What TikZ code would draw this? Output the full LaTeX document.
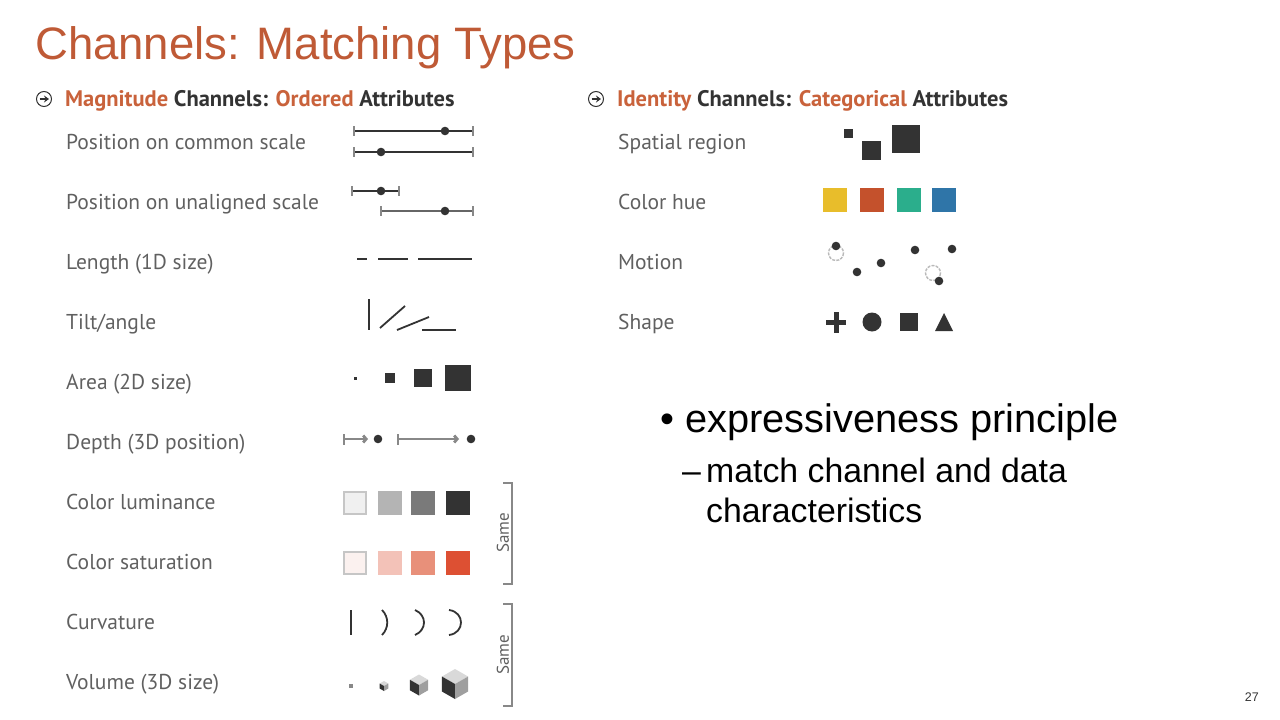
\documentclass[tikz,border=0pt]{standalone}
\usepackage{fontspec}
\setmainfont{Liberation Sans}
\newfontfamily\labfont{PT Sans}
\usetikzlibrary{arrows.meta}
\definecolor{ttl}{HTML}{BF5A36}
\definecolor{hdr}{HTML}{C9623B}
\definecolor{lab}{HTML}{606060}
\definecolor{mk}{HTML}{333333}
\definecolor{tk}{HTML}{888888}
\definecolor{luma}{HTML}{F0F0F0}
\definecolor{lumb}{HTML}{B4B4B4}
\definecolor{lumc}{HTML}{7A7A7A}
\definecolor{lumd}{HTML}{333333}
\definecolor{sata}{HTML}{FBF1EF}
\definecolor{satb}{HTML}{F3C2B8}
\definecolor{satc}{HTML}{E8907A}
\definecolor{satd}{HTML}{DD5033}
\definecolor{huea}{HTML}{E8BD2B}
\definecolor{hueb}{HTML}{C4512C}
\definecolor{huec}{HTML}{2BAE8C}
\definecolor{hued}{HTML}{2F75A8}
\tikzset{
  lbl/.style={anchor=base west, inner sep=0pt, text=lab, font=\labfont\fontsize{21.5}{24}\selectfont},
  hd/.style={anchor=base west, inner sep=0pt, text=mk, font=\labfont\bfseries\fontsize{22.5}{25}\selectfont},
  scl/.style={mk, line width=2.2pt},
  tck/.style={tk, line width=1.5pt},
  dotm/.style={fill=mk, draw=none},
  sq/.style={fill=mk, draw=none},
  same/.style={tk, line width=2pt},
  sametxt/.style={rotate=90, inner sep=0pt, text=lab, font=\labfont\fontsize{17}{19}\selectfont},
  ring/.style={draw=gray!55, line width=1.4pt, dash pattern=on 3pt off 1.2pt}
}
\newcommand\mycube[3]{% cx cy s
  \fill[gray!30] (#1,#2-#3) -- (#1+0.87*#3,#2-0.5*#3) -- (#1,#2) -- (#1-0.87*#3,#2-0.5*#3) -- cycle;
  \fill[mk] (#1-0.87*#3,#2-0.5*#3) -- (#1,#2) -- (#1,#2+#3) -- (#1-0.87*#3,#2+0.5*#3) -- cycle;
  \fill[gray!75] (#1,#2) -- (#1+0.87*#3,#2-0.5*#3) -- (#1+0.87*#3,#2+0.5*#3) -- (#1,#2+#3) -- cycle;
}
\newcommand\hdicon[2]{%
  \draw[mk, line width=1pt] (#1,#2) circle (7.5);
  \draw[mk, line width=1.4pt, -{Stealth[length=5pt,width=7pt]}] (#1-4.5,#2) -- (#1+5,#2);
}
\begin{document}
\begin{tikzpicture}[x=1pt,y=-1pt]
\useasboundingbox (0,0) rectangle (1280,720);
% title
\node[anchor=base west, inner sep=0pt, text=ttl, font=\fontsize{45.5}{50}\selectfont] (title) at (35,59) {Channels: Matching Types};
% headers
\hdicon{44}{99}
\node[hd] (hl) at (65,106) {\textcolor{hdr}{Magnitude} Channels: \textcolor{hdr}{Ordered} Attributes};
\hdicon{596}{99}
\node[hd] (hr) at (617,106) {\textcolor{hdr}{Identity} Channels: \textcolor{hdr}{Categorical} Attributes};
% left labels
\node[lbl] (l1) at (66,149) {Position on common scale};
\node[lbl] (l2) at (66,209) {Position on unaligned scale};
\node[lbl] (l3) at (66,269) {Length (1D size)};
\node[lbl] (l4) at (66,329) {Tilt/angle};
\node[lbl] (l5) at (66,389) {Area (2D size)};
\node[lbl] (l6) at (66,449) {Depth (3D position)};
\node[lbl] (l7) at (66,509) {Color luminance};
\node[lbl] (l8) at (66,569) {Color saturation};
\node[lbl] (l9) at (66,629) {Curvature};
\node[lbl] (l10) at (66,689) {Volume (3D size)};
% right labels
\node[lbl] (r1) at (618,149) {Spatial region};
\node[lbl] (r2) at (618,209) {Color hue};
\node[lbl] (r3) at (618,269) {Motion};
\node[lbl] (r4) at (618,329) {Shape};
% row 1 position common
\draw[scl] (354,131) -- (473,131);
\draw[tck] (354,126) -- (354,136) (473,126) -- (473,136);
\fill[dotm] (445,131) circle (4.3);
\draw[scl] (354,152) -- (473,152);
\draw[tck] (354,147) -- (354,157) (473,147) -- (473,157);
\fill[dotm] (381,152) circle (4.3);
% row 2 unaligned
\draw[scl] (352,191) -- (399,191);
\draw[tck] (352,186) -- (352,196) (399,186) -- (399,196);
\fill[dotm] (381,191) circle (4.3);
\draw[scl, gray!80!black] (381,211) -- (473,211);
\draw[tck] (381,206) -- (381,216) (473,206) -- (473,216);
\fill[dotm] (445,211) circle (4.3);
% row 3 length
\draw[mk, line width=2.5pt] (357,259) -- (367,259) (378,259) -- (408,259) (418,259) -- (472,259);
% row 4 tilt
\draw[mk, line width=1.8pt] (369,299) -- (369,330);
\draw[mk, line width=1.8pt] (380,328) -- (405,306);
\draw[mk, line width=1.8pt] (397,330) -- (429,317);
\draw[mk, line width=1.8pt] (422,330) -- (456,330);
% row 5 area
\fill[sq] (354,377) rectangle (357,380);
\fill[sq] (385,373) rectangle (395,383);
\fill[sq] (414,369) rectangle (432,387);
\fill[sq] (445,365) rectangle (471,391);
% row 6 depth
\draw[tck, line width=2pt] (344,434) -- (344,445);
\draw[tk, line width=2.8pt, -{Straight Barb[length=3pt,width=7pt]}] (344,439) -- (368,439);
\fill[dotm] (378,439) circle (4.3);
\draw[tck, line width=2pt] (398,434) -- (398,445);
\draw[tk, line width=2.8pt, -{Straight Barb[length=3pt,width=7pt]}] (398,439) -- (459,439);
\fill[dotm] (471,439) circle (4.3);
% row 7 luminance
\fill[gray!45] (343,491) rectangle (367,515);
\fill[luma] (345,493) rectangle (365,513);
\fill[lumb] (378,491) rectangle (402,515);
\fill[lumc] (411,491) rectangle (435,515);
\fill[lumd] (446,491) rectangle (470,515);
% row 8 saturation
\fill[gray!45] (343,551) rectangle (367,575);
\fill[sata] (345,553) rectangle (365,573);
\fill[satb] (378,551) rectangle (402,575);
\fill[satc] (411,551) rectangle (435,575);
\fill[satd] (446,551) rectangle (470,575);
% same bracket 1
\draw[same] (503,483) -- (512,483) -- (512,584) -- (503,584);
\node[sametxt] (s1) at (503,533) {Same};
% row 9 curvature
\draw[mk, line width=2pt] (351,610) -- (351,635);
\draw[mk, line width=1.8pt] (382,610) .. controls (389,617) and (389,628) .. (382,635);
\draw[mk, line width=1.8pt] (415,610) .. controls (427,615) and (427,630) .. (415,635);
\draw[mk, line width=1.8pt] (449,610) .. controls (465,612) and (465,633) .. (449,635);
% row 10 volume
\fill[tk] (349,684) rectangle (353,688);
\mycube{384}{686}{5}
\mycube{419}{685}{10.5}
\mycube{455}{684}{15}
% same bracket 2
\draw[same] (503,604) -- (512,604) -- (512,706) -- (503,706);
\node[sametxt] (s2) at (503,655) {Same};
% right: spatial region
\fill[sq] (844,129) rectangle (853,138);
\fill[sq] (862,141) rectangle (881,160);
\fill[sq] (892,125) rectangle (920,153);
% color hue
\fill[huea] (823,188) rectangle (847,212);
\fill[hueb] (860,188) rectangle (884,212);
\fill[huec] (897,188) rectangle (921,212);
\fill[hued] (932,188) rectangle (956,212);
% motion
\draw[ring] (836,253) circle (7.5);
\fill[dotm] (836,246) circle (4.3);
\fill[dotm] (857,272) circle (4.3);
\fill[dotm] (881,263) circle (4.3);
\fill[dotm] (915,250) circle (4.3);
\fill[dotm] (952,249) circle (4.3);
\draw[ring] (933,273) circle (7.5);
\fill[dotm] (939,281) circle (4.3);
% shape
\fill[mk] (826,320) rectangle (846,325);
\fill[mk] (833.5,312) rectangle (838.5,333);
\fill[mk] (872,322) circle (9.5);
\fill[mk] (900,313) rectangle (918,331);
\fill[mk] (944,313) -- (953,331) -- (935,331) -- cycle;
% bullets
\node[anchor=base west, inner sep=0pt, font=\fontsize{39.8}{44}\selectfont] (b1) at (660,432) {\textbullet\ expressiveness principle};
\node[anchor=base west, inner sep=0pt, font=\fontsize{33.8}{38}\selectfont] (b2) at (682,482) {\textendash};
\node[anchor=base west, inner sep=0pt, font=\fontsize{33.8}{38}\selectfont] (b3) at (706,482) {match channel and data};
\node[anchor=base west, inner sep=0pt, font=\fontsize{33.8}{38}\selectfont] (b4) at (706,522) {characteristics};
% page number
\node[anchor=base east, inner sep=0pt, text=mk, font=\fontsize{12.5}{14}\selectfont] (pg) at (1259,701) {27};
\end{tikzpicture}
\end{document}
